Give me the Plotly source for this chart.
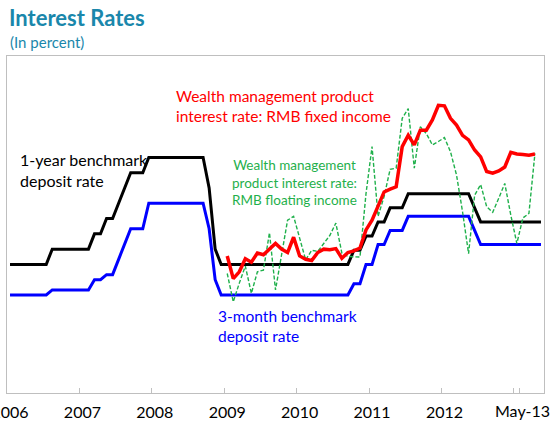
import plotly.graph_objects as go
import pandas as pd

# Monthly categories: Jan-2006 .. May-2013
months = [d.strftime("%b-%y") for d in pd.date_range("2006-01-01", periods=89, freq="MS")]

# 1-year benchmark deposit rate (percent)
one_year = ([2.25] * 7 + [2.52] * 7 + [2.79] * 2 + [3.06] * 2 + [3.33] + [3.60] + [3.87] * 3
            + [4.14] * 10 + [3.60] + [2.52] + [2.25] * 22 + [2.50] * 2 + [2.75] * 2 + [3.00] * 2
            + [3.25] * 3 + [3.50] * 11 + [3.25] + [3.00] * 11)

# 3-month benchmark deposit rate (percent)
three_month = ([1.71] * 7 + [1.80] * 7 + [1.98] * 2 + [2.07] * 2 + [2.34] + [2.61] + [2.88] * 3
               + [3.33] * 10 + [2.88] + [1.98] + [1.71] * 22 + [1.91] * 2 + [2.25] * 2 + [2.60] * 2
               + [2.85] * 3 + [3.10] * 11 + [2.85] + [2.60] * 11)

# WMP interest rate: RMB fixed income (Jan-2009 .. Apr-2013)
wmp_fixed = [2.40, 2.00, 2.12, 2.35, 2.29, 2.45, 2.42, 2.51, 2.62, 2.52, 2.46, 2.73,
             2.40, 2.34, 2.32, 2.46, 2.52, 2.51, 2.53, 2.36, 2.46, 2.49, 2.54, 2.86,
             3.03, 3.28, 3.53, 3.58, 3.62, 4.33, 4.53, 4.36, 4.62, 4.62, 4.80, 5.06,
             5.05, 4.83, 4.71, 4.53, 4.45, 4.27, 4.15, 3.89, 3.86, 3.90, 3.97, 4.23,
             4.20, 4.19, 4.18, 4.20]

# WMP interest rate: RMB floating income (Jan-2009 .. Apr-2013)
wmp_float = [2.09, 1.59, 1.92, 2.22, 1.74, 2.12, 2.15, 2.81, 1.80, 2.44, 3.03, 3.10,
             2.72, 2.33, 2.50, 2.48, 2.62, 2.76, 2.98, 2.45, 2.39, 2.39, 2.38, 3.50,
             4.33, 3.10, 3.45, 3.93, 3.95, 4.83, 5.00, 3.95, 4.68, 4.56, 4.36, 4.42,
             4.49, 4.24, 3.83, 3.18, 2.44, 3.47, 3.66, 3.27, 3.17, 3.42, 3.68, 3.12,
             2.62, 3.07, 3.15, 4.21]

wmp_months = months[36:36 + len(wmp_fixed)]

year_ticks = ["Jan-06", "Jan-07", "Jan-08", "Jan-09", "Jan-10", "Jan-11", "Jan-12", "Jan-13"]
year_labels = ["2006", "2007", "2008", "2009", "2010", "2011", "2012", ""]

FONT = "Lato"
W, H = 553, 422
L, R, T, B = 6.5, 8.5, 56, 29
PW, PH = W - L - R, H - T - B


def px2x(px):
    return (px - L) / PW


def py2y(py):
    return (H - B - py) / PH


fig = go.Figure()
fig.add_trace(go.Scatter(x=months, y=one_year, mode="lines",
                         line=dict(color="#000000", width=3), name="1-year"))
fig.add_trace(go.Scatter(x=months, y=three_month, mode="lines",
                         line=dict(color="#0000ff", width=3), name="3-month"))
fig.add_trace(go.Scatter(x=wmp_months, y=wmp_float, mode="lines",
                         line=dict(color="#1fb04b", width=1.4, dash="4px,2px"), name="floating"))
fig.add_trace(go.Scatter(x=wmp_months, y=wmp_fixed, mode="lines",
                         line=dict(color="#ff0000", width=3.5), name="fixed"))

ann = []
ann.append(dict(text="<b>Interest Rates</b>", xref="paper", yref="paper",
                x=px2x(7), y=py2y(2), xanchor="left", yanchor="top", showarrow=False,
                font=dict(family=FONT, size=22, color="#1a87ab")))
ann.append(dict(text="(In percent)", xref="paper", yref="paper",
                x=px2x(8), y=py2y(31), xanchor="left", yanchor="top", showarrow=False,
                font=dict(family=FONT, size=15, color="#1a87ab")))
ann.append(dict(text="Wealth management product<br>interest rate: RMB fixed income",
                xref="paper", yref="paper", x=px2x(174), y=py2y(106), xanchor="left",
                yanchor="middle", align="left", showarrow=False,
                font=dict(family=FONT, size=15.5, color="#ff0000")))
ann.append(dict(text="1-year benchmark<br>deposit rate",
                xref="paper", yref="paper", x=px2x(18), y=py2y(170), xanchor="left",
                yanchor="middle", align="left", showarrow=False,
                font=dict(family=FONT, size=16, color="#000000")))
ann.append(dict(text="Wealth management<br>product interest rate:<br>RMB floating income",
                xref="paper", yref="paper", x=px2x(295), y=py2y(182), xanchor="center",
                yanchor="middle", align="center", showarrow=False,
                font=dict(family=FONT, size=13.5, color="#1fb04b")))
ann.append(dict(text="3-month benchmark<br>deposit rate",
                xref="paper", yref="paper", x=px2x(216), y=py2y(326), xanchor="left",
                yanchor="middle", align="left", showarrow=False,
                font=dict(family=FONT, size=15.5, color="#0000ff")))
ann.append(dict(text="May-13", xref="paper", yref="paper", x=px2x(523), y=py2y(410),
                xanchor="center", yanchor="middle", showarrow=False,
                font=dict(family=FONT, size=16, color="#000000")))

fig.update_layout(
    width=W, height=H,
    margin=dict(l=L, r=R, t=T, b=B, pad=0, autoexpand=False),
    paper_bgcolor="white", plot_bgcolor="white",
    showlegend=False,
    annotations=ann,
    xaxis=dict(type="category", categoryorder="array", categoryarray=months,
               range=[-0.5, len(months) - 0.5], automargin=False, tickangle=0,
               tickmode="array", tickvals=year_ticks, ticktext=year_labels,
               tickson="boundaries", ticks="inside", ticklen=5, tickcolor="#c0c0c0",
               ticklabelstandoff=5,
               showgrid=False, zeroline=False,
               showline=True, linecolor="#bfbfbf", linewidth=1, mirror=True,
               tickfont=dict(family=FONT, size=16, color="#000000")),
    yaxis=dict(range=[-0.02, 5.93], showticklabels=False, ticks="", showgrid=False,
               automargin=False,
               zeroline=False, showline=True, linecolor="#bfbfbf", linewidth=1, mirror=True),
)

fig.write_html("out.html", config={"displayModeBar": False},
               post_script="document.body.style.margin='0';")
